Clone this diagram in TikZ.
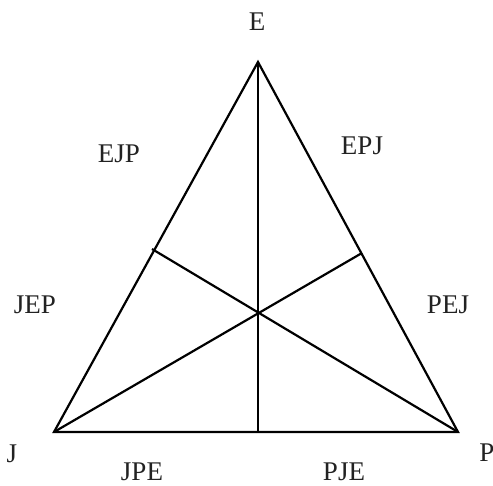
\documentclass[tikz,border=0pt]{standalone}
\usepackage{fontspec}
\setmainfont{Liberation Serif}
\usepackage{tikz}
\usetikzlibrary{positioning,calc}
\definecolor{triInk}{HTML}{000000}
\definecolor{triText}{HTML}{222222}

\begin{document}
\begin{tikzpicture}[x=0.5pt,y=-0.5pt,
    font=\fontsize{13.5}{16}\selectfont,
    edge/.style={draw=triInk,line width=1.1pt,line join=miter},
    vlabel/.style={text=triText,inner sep=0pt},
    rlabel/.style={text=triText,inner sep=0pt}]
  \useasboundingbox (0,0) rectangle (493,486);
  % vertices and feet of the three lines
  \coordinate (E) at (258,62);
  \coordinate (J) at (54,432);
  \coordinate (P) at (458,432);
  \coordinate (footJE) at (152,249);
  \coordinate (footEP) at (362,253);
  \coordinate (footJP) at (258,432);

  \draw[edge] (J) -- (E) -- (P) -- cycle;
  \draw[edge] (E) -- (footJP);
  \draw[edge] (P) -- (footJE);
  \draw[edge] (J) -- (footEP);

  \node[vlabel] (lblE) at (257,22) {E};
  \node[vlabel] (lblJ) at (12,454) {J};
  \node[vlabel] (lblP) at (487,453) {P};

  \node[rlabel] (ejp) at (119,154) {EJP};
  \node[rlabel] (epj) at (362,146) {EPJ};
  \node[rlabel] (jep) at (35,305) {JEP};
  \node[rlabel] (pej) at (448,305) {PEJ};
  \node[rlabel] (jpe) at (142,472) {JPE};
  \node[rlabel] (pje) at (344,472) {PJE};
\end{tikzpicture}
\end{document}
